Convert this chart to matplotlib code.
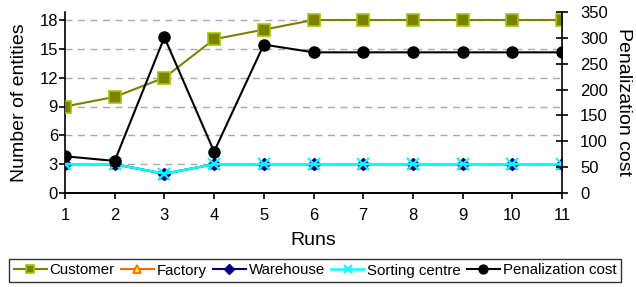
import matplotlib
matplotlib.use("Agg")
import matplotlib.pyplot as plt

plt.rcParams['font.family'] = ['Liberation Sans', 'DejaVu Sans']

runs = [1, 2, 3, 4, 5, 6, 7, 8, 9, 10, 11]
customer = [9, 10, 12, 16, 17, 18, 18, 18, 18, 18, 18]
factory = [3, 3, 2, 3, 3, 3, 3, 3, 3, 3, 3]
warehouse = [3, 3, 2, 3, 3, 3, 3, 3, 3, 3, 3]
sorting = [3, 3, 2, 3, 3, 3, 3, 3, 3, 3, 3]
penalization = [71, 62, 301, 80, 287, 272, 272, 272, 272, 272, 272]

fig = plt.figure(figsize=(6.36, 2.87), dpi=100)
ax = fig.add_axes([65/636, 1-193/287, (562-65)/636, (193-12)/287])
ax2 = ax.twinx()

ax.plot(runs, customer, color='#808000', lw=1.5, marker='s', ms=8,
        mfc='#808000', mec='#99CC00', mew=1.2, label='Customer', zorder=3)
ax.plot(runs, factory, color='#FF6600', lw=1.5, marker='^', ms=7,
        mfc='#FFFF00', mec='#FF6600', mew=1.2, label='Factory', zorder=3)
ax.plot(runs, warehouse, color='#000080', lw=1.5, marker='D', ms=6,
        mfc='#000080', mec='#000080', label='Warehouse', zorder=4)
ax.plot(runs, sorting, color='#00FFFF', lw=1.8, marker='x', ms=8,
        mec='#00FFFF', mew=1.5, label='Sorting centre', zorder=5)
ax2.plot(runs, penalization, color='black', lw=1.5, marker='o', ms=8,
         label='Penalization cost', zorder=3)

ax.set_xlim(1, 11)
ax.set_ylim(0, 18 * 181 / 173)
ax2.set_ylim(0, 350)
ax.set_yticks([0, 3, 6, 9, 12, 15, 18])
ax2.set_yticks(range(0, 351, 50))
ax.set_xticks(runs)

for y in [3, 6, 9, 12, 15, 18]:
    ax.axhline(y, color='#AAAAAA', lw=1, ls=(0, (5, 4)), zorder=1)

for sp in ['top']:
    ax.spines[sp].set_visible(False)
    ax2.spines[sp].set_visible(False)
ax2.spines['left'].set_visible(False)
ax.spines['right'].set_visible(False)
for a in (ax, ax2):
    for sp in a.spines.values():
        sp.set_linewidth(1.2)

ax.tick_params(axis='y', direction='out', length=4, width=1.2, labelsize=12, pad=1)
ax.tick_params(axis='x', direction='out', length=4, width=1.2, labelsize=12, pad=7)
ax2.tick_params(axis='y', direction='inout', length=8, width=1.2, labelsize=12, pad=9)

ax.set_xlabel('Runs', fontsize=14, labelpad=6)
ax.set_ylabel('Number of entities', fontsize=14, labelpad=8)
ax2.set_ylabel('Penalization cost', fontsize=14, rotation=270, labelpad=17)

h1, l1 = ax.get_legend_handles_labels()
h2, l2 = ax2.get_legend_handles_labels()
leg = fig.legend(h1 + h2, l1 + l2, loc='center', ncol=5,
                 bbox_to_anchor=(315/636, 1-270.5/287), fontsize=10.8,
                 frameon=True, fancybox=False, edgecolor='black',
                 handlelength=2.2, handletextpad=0.2, columnspacing=0.4,
                 borderpad=0.3, borderaxespad=0, markerscale=0.8)
leg.get_frame().set_linewidth(1.0)

fig.savefig('out.png', dpi=100)
